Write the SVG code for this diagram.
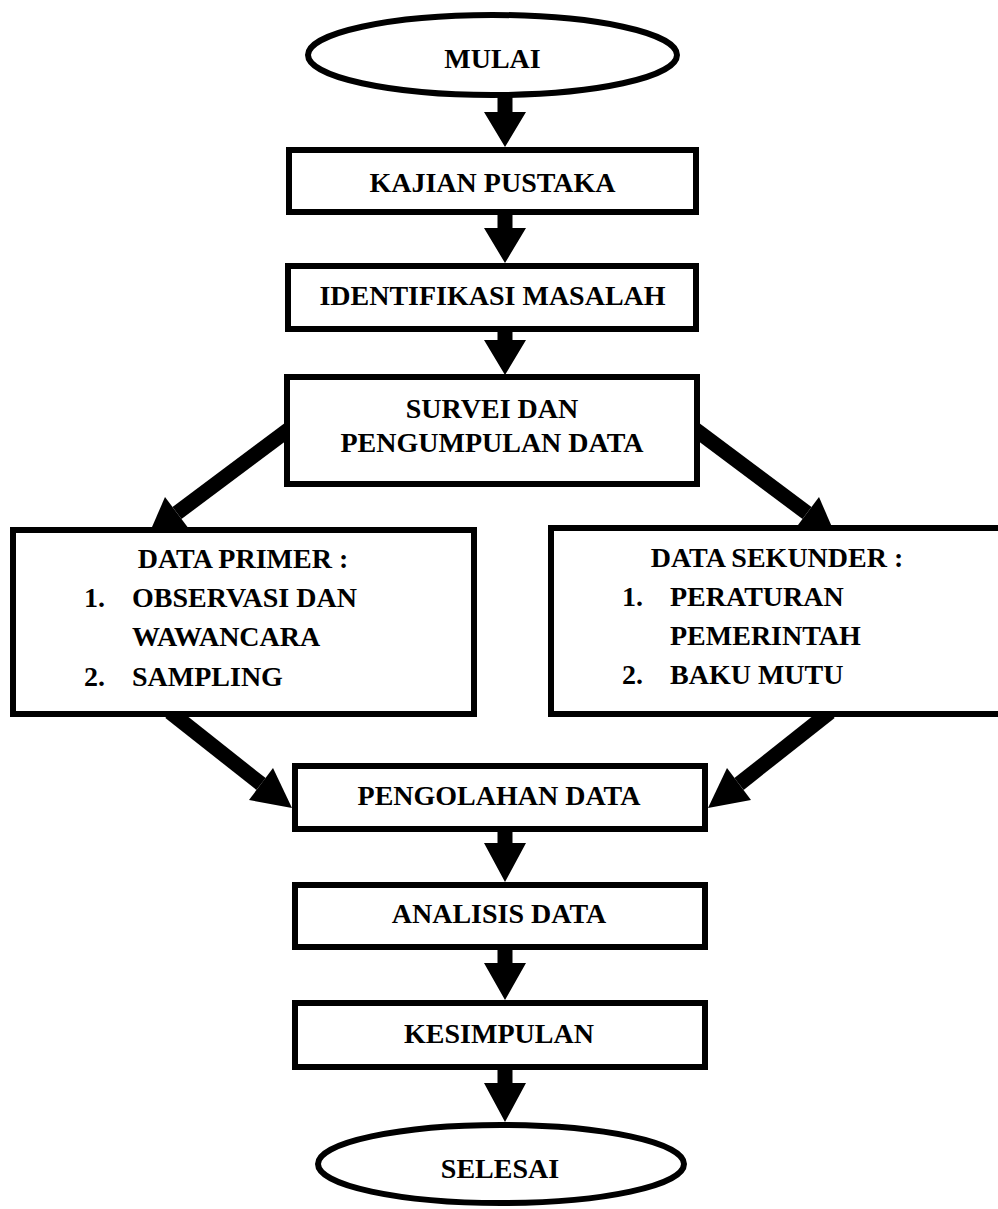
<svg xmlns="http://www.w3.org/2000/svg" width="998" height="1209" viewBox="0 0 998 1209">
<style>
.box{fill:#fff;stroke:#000;stroke-width:6}
.t{font-family:"Liberation Serif","Times New Roman",serif;font-weight:bold;font-size:28px;fill:#000}
.c{text-anchor:middle}
.ar{fill:#000;stroke:none}
.sh{stroke:#000;stroke-width:15;fill:none}
</style>
<rect width="998" height="1209" fill="#fff"/>
<g id="connectors">
<polygon class="ar" points="497.5,97 512.5,97 512.5,112 526,112 505,147 484,112 497.5,112"/>
<polygon class="ar" points="497.5,214 512.5,214 512.5,228 526,228 505,263 484,228 497.5,228"/>
<polygon class="ar" points="497.5,331 512.5,331 512.5,340 526,340 505,375 484,340 497.5,340"/>
<line class="sh" x1="292" y1="427" x2="177" y2="513"/>
<polygon class="ar" points="165,497 189,529 149,534"/>
<line class="sh" x1="692" y1="427" x2="807" y2="513"/>
<polygon class="ar" points="819,497 795,529 835,534"/>
<line class="sh" x1="170" y1="712" x2="261" y2="784"/>
<polygon class="ar" points="292,808 273,768 249,800"/>
<line class="sh" x1="830" y1="712" x2="739" y2="784"/>
<polygon class="ar" points="708,808 727,768 751,800"/>
<polygon class="ar" points="497.5,831 512.5,831 512.5,843 526,843 505,882 484,843 497.5,843"/>
<polygon class="ar" points="497.5,949 512.5,949 512.5,963 526,963 505,1000 484,963 497.5,963"/>
<polygon class="ar" points="497.5,1069 512.5,1069 512.5,1083 526,1083 505,1122 484,1083 497.5,1083"/>
</g>
<g id="mulai">
<ellipse class="box" cx="492.5" cy="55" rx="184.5" ry="40"/>
<text class="t c" x="492.5" y="68">MULAI</text>
</g>
<g id="kajian">
<rect class="box" x="289" y="150" width="407" height="62"/>
<text class="t c" x="492.5" y="192">KAJIAN PUSTAKA</text>
</g>
<g id="identifikasi">
<rect class="box" x="288" y="266" width="408" height="63"/>
<text class="t c" x="492.5" y="305">IDENTIFIKASI MASALAH</text>
</g>
<g id="survei">
<rect class="box" x="287" y="377" width="410" height="107"/>
<text class="t c" x="492" y="418">SURVEI DAN</text>
<text class="t c" x="492" y="452">PENGUMPULAN DATA</text>
</g>
<g id="primer">
<rect class="box" x="13" y="530" width="461" height="184"/>
<text class="t c" x="243" y="568">DATA PRIMER :</text>
<text class="t" x="84" y="607">1.</text>
<text class="t" x="132" y="607">OBSERVASI DAN</text>
<text class="t" x="132" y="646">WAWANCARA</text>
<text class="t" x="84" y="686">2.</text>
<text class="t" x="132" y="686">SAMPLING</text>
</g>
<g id="sekunder">
<rect class="box" x="551" y="528" width="452" height="186"/>
<text class="t c" x="777" y="567">DATA SEKUNDER :</text>
<text class="t" x="622" y="606">1.</text>
<text class="t" x="670" y="606">PERATURAN</text>
<text class="t" x="670" y="645">PEMERINTAH</text>
<text class="t" x="622" y="684">2.</text>
<text class="t" x="670" y="684">BAKU MUTU</text>
</g>
<g id="pengolahan">
<rect class="box" x="295" y="766" width="410" height="63"/>
<text class="t c" x="499" y="805">PENGOLAHAN DATA</text>
</g>
<g id="analisis">
<rect class="box" x="295" y="885" width="410" height="62"/>
<text class="t c" x="499" y="923">ANALISIS DATA</text>
</g>
<g id="kesimpulan">
<rect class="box" x="295" y="1003" width="410" height="64"/>
<text class="t c" x="499" y="1043">KESIMPULAN</text>
</g>
<g id="selesai">
<ellipse class="box" cx="501" cy="1164" rx="183" ry="39"/>
<text class="t c" x="500" y="1178">SELESAI</text>
</g>
</svg>
